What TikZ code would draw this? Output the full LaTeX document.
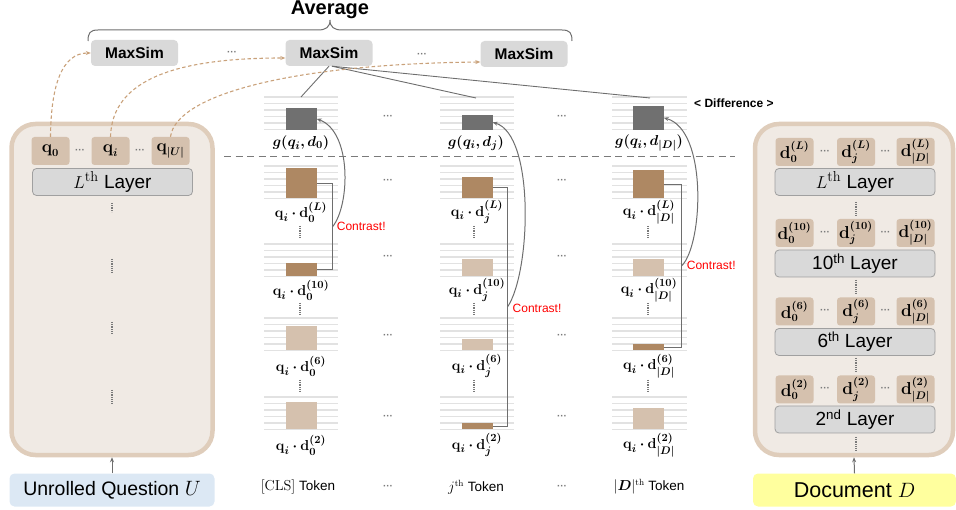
\documentclass[tikz,border=0pt]{standalone}
\usepackage{amsmath,bm}
\usepackage[no-math]{fontspec}
\setmainfont{Liberation Sans}
\usetikzlibrary{arrows.meta,calc}
\definecolor{panelfill}{HTML}{F0EAE4}
\definecolor{panelborder}{HTML}{DFCDBB}
\definecolor{tokfill}{HTML}{D5C1AE}
\definecolor{layerfill}{HTML}{D9D9D9}
\definecolor{layerborder}{HTML}{A0A0A0}
\definecolor{darkbar}{HTML}{AE8863}
\definecolor{lightbar}{HTML}{D5C1AE}
\definecolor{gbar}{HTML}{707070}
\definecolor{gridc}{HTML}{E2E2E2}
\definecolor{dashbrown}{HTML}{C9A17A}
\definecolor{qboxc}{HTML}{DCE8F4}
\definecolor{docboxc}{HTML}{FFFF9E}
\definecolor{dotgray}{HTML}{7A7A7A}
\definecolor{linegray}{HTML}{6E6E6E}
\newcommand{\qv}{\mathbf{q}}
\newcommand{\dv}{\mathbf{d}}
\newcommand{\hdd}{\textbf{···}}
\begin{document}
\begin{tikzpicture}[x=1pt,y=-1pt,
  panel/.style={draw=panelborder, line width=4.5pt, fill=panelfill, rounded corners=24pt, inner sep=0pt},
  tok/.style={fill=tokfill, rounded corners=3pt, minimum width=38pt, minimum height=28pt, inner sep=0pt, font=\fontsize{16}{18}\selectfont},
  layer/.style={draw=layerborder, line width=0.8pt, fill=layerfill, rounded corners=4pt, minimum width=160pt, minimum height=27pt, inner sep=0pt, font=\fontsize{19}{22}\selectfont},
  maxsim/.style={fill=layerfill, rounded corners=4pt, minimum width=87pt, minimum height=26pt, inner sep=0pt, font=\bfseries\fontsize{15.5}{18}\selectfont},
  inbox/.style={rounded corners=5pt, minimum width=205pt, minimum height=33pt, inner sep=0pt},
  bar/.style={anchor=south, minimum width=31pt, inner sep=0pt},
  lab/.style={font=\fontsize{15.5}{17}\selectfont, inner sep=0pt},
  hdots/.style={text=dotgray, font=\fontsize{10}{10}\selectfont, inner sep=0pt},
  vdot/.style={draw=dotgray, line width=1.3pt, dash pattern=on 1pt off 0.8pt},
  gridline/.style={draw=gridc, line width=1.2pt},
  qarrow/.style={draw=dashbrown, line width=1.1pt, dash pattern=on 3.5pt off 2.5pt, -{Stealth[length=5pt,width=4pt]}},
  bracketline/.style={draw=linegray, line width=1.1pt},
  contrast/.style={draw=linegray, line width=1pt, -{Stealth[length=5pt,width=4pt]}},
  redlab/.style={text=red, font=\fontsize{12}{14}\selectfont, inner sep=0pt, anchor=west},
  toklab/.style={font=\fontsize{13.5}{16}\selectfont, inner sep=0pt}
]
\useasboundingbox (0,0) rectangle (956,510);

% ---------- top: Average, brace, MaxSim ----------
\node[font=\bfseries\fontsize{20}{22}\selectfont, inner sep=0pt] (avg) at (330,10) {Average};
\draw[draw=linegray, line width=1pt] (88,41) .. controls (88,33) and (90,30) .. (98,30) -- (318,30)
   .. controls (326,30) and (330,27) .. (330,20) .. controls (330,27) and (334,30) .. (342,30)
   -- (562,30) .. controls (570,30) and (572,33) .. (572,41);
\node[maxsim] (m1) at (134.5,53) {MaxSim};
\node[maxsim] (m2) at (329,53) {MaxSim};
\node[maxsim] (m3) at (524,54) {MaxSim};
\node[hdots] (md1) at (232,53) {\hdd};
\node[hdots] (md2) at (422,55) {\hdd};

% ---------- left panel ----------
\node[panel, minimum width=201pt, minimum height=331pt] (lp) at (112,289.5) {};
\node[tok] (q0) at (50.5,151) {$\bm{\qv_0}$};
\node[tok] (qi) at (110.5,151) {$\bm{\qv_i}$};
\node[tok] (qU) at (170.5,151) {$\bm{\qv_{|U|}}$};
\node[hdots] (qd1) at (80,151) {\hdd};
\node[hdots] (qd2) at (140,151) {\hdd};
\node[layer] (lL) at (112.5,182) {$L^{\mathrm{th}}$ Layer};
\draw[vdot] (112,203) -- (112,212);
\draw[vdot] (112,259) -- (112,272);
\draw[vdot] (112,322) -- (112,334);
\draw[vdot] (112,390) -- (112,403);
\node[inbox, fill=qboxc, font=\fontsize{19.5}{22}\selectfont] (qbox) at (112,490) {Unrolled Question $U$};
\draw[draw=linegray, line width=1pt, -{Stealth[length=5pt,width=4pt]}] (qbox.north) -- (lp.south);

% ---------- right panel ----------
\node[panel, minimum width=198pt, minimum height=331pt] (rp) at (854,289.5) {};
\foreach \r/\y/\ly/\sup/\lname in {L/152/182/{L}/{$L^{\mathrm{th}}$ Layer},
                                   X/233/263.5/{10}/{10\textsuperscript{th} Layer},
                                   S/311.5/342/{6}/{6\textsuperscript{th} Layer},
                                   T/389.5/419.5/{2}/{2\textsuperscript{nd} Layer}}{
  \node[tok] (d0\r) at (794.5,\y) {$\bm{\dv_0^{(\sup)}}$};
  \node[tok] (dj\r) at (856,\y) {$\bm{\dv_j^{(\sup)}}$};
  \node[tok] (dD\r) at (915.5,\y) {$\bm{\dv_{|D|}^{(\sup)}}$};
  \node[hdots] at (825,\y) {\hdd};
  \node[hdots] at (885.5,\y) {\hdd};
  \node[layer] (ly\r) at (855,\ly) {\lname};
}
\draw[vdot] (856,202) -- (856,215);
\draw[vdot] (856,280) -- (856,293);
\draw[vdot] (856,358) -- (856,372);
\draw[vdot] (856,437) -- (856,450);
\node[inbox, fill=docboxc, minimum width=203pt, font=\fontsize{21.5}{24}\selectfont] (dbox) at (854.5,490) {Document $D$};
\draw[draw=linegray, line width=1pt, -{Stealth[length=5pt,width=4pt]}] (dbox.north) -- (rp.south);

% ---------- middle columns: grids ----------
\foreach \gx/\gw in {264/338,440/514,612/687}{
  \foreach \gt in {97,166,244,318,397}{
    \foreach \k in {0,...,5}{
      \draw[gridline] (\gx,{\gt+\k*6.5}) -- (\gw,{\gt+\k*6.5});
    }
  }
}
% bars column 1 (x=301)
\node[bar, fill=gbar, minimum height=22pt] (g1) at (301,130) {};
\node[bar, fill=darkbar, minimum height=30pt] (b1L) at (301,198.5) {};
\node[bar, fill=darkbar, minimum height=13pt] (b1X) at (301,276.5) {};
\node[bar, fill=lightbar, minimum height=24pt] (b1S) at (301,350.5) {};
\node[bar, fill=lightbar, minimum height=27pt] (b1T) at (301,429.5) {};
% bars column 2 (x=477)
\node[bar, fill=gbar, minimum height=15pt] (g2) at (477,130) {};
\node[bar, fill=darkbar, minimum height=21pt] (b2L) at (477,198.5) {};
\node[bar, fill=lightbar, minimum height=17pt] (b2X) at (477,276.5) {};
\node[bar, fill=lightbar, minimum height=11pt] (b2S) at (477,350.5) {};
\node[bar, fill=darkbar, minimum height=6pt] (b2T) at (477,429.5) {};
% bars column 3 (x=648)
\node[bar, fill=gbar, minimum height=24pt] (g3) at (648,130) {};
\node[bar, fill=darkbar, minimum height=28pt] (b3L) at (648,198.5) {};
\node[bar, fill=lightbar, minimum height=17pt] (b3X) at (648,276.5) {};
\node[bar, fill=darkbar, minimum height=6pt] (b3S) at (648,350.5) {};
\node[bar, fill=lightbar, minimum height=21pt] (b3T) at (648,429.5) {};

% labels
\node[lab] (lg1) at (301,143) {$\bm{g(q_i,d_0)}$};
\node[lab] (lg2) at (476,143) {$\bm{g(q_i,d_j)}$};
\node[lab] (lg3) at (649,143) {$\bm{g(q_i,d_{|D|})}$};
\foreach \cx/\sb/\cn in {301/0/1,477/j/2,649/{|D|}/3}{
  \node[lab] at (\cx,212) {$\bm{\qv_i\cdot\dv_{\sb}^{(L)}}$};
  \node[lab] at (\cx,290) {$\bm{\qv_i\cdot\dv_{\sb}^{(10)}}$};
  \node[lab] at (\cx,366) {$\bm{\qv_i\cdot\dv_{\sb}^{(6)}}$};
  \node[lab] at (\cx,445) {$\bm{\qv_i\cdot\dv_{\sb}^{(2)}}$};
}
\foreach \cx in {300,474,648}{
  \draw[vdot] (\cx,226) -- (\cx,238);
  \draw[vdot] (\cx,303) -- (\cx,315);
  \draw[vdot] (\cx,380) -- (\cx,392);
}
% horizontal dots between columns
\foreach \dy in {117,181,257,336,417,487}{
  \node[hdots] at (388,\dy) {\hdd};
  \node[hdots] at (562,\dy) {\hdd};
}
% bottom token labels
\node[toklab] (t1) at (298,487) {$[\mathrm{CLS}]$ Token};
\node[toklab] (t2) at (476,487) {$j^{\mathrm{th}}$ Token};
\node[toklab] (t3) at (649,487) {$|\bm{D}|^{\mathrm{th}}$ Token};

% difference line and label
\draw[draw=dotgray, line width=1pt, dash pattern=on 7pt off 4.5pt] (224,157) -- (735,157);
\node[font=\bfseries\fontsize{12}{14}\selectfont, inner sep=0pt, anchor=west] (diff) at (694,103) {< Difference >};

% MaxSim to columns
\coordinate (c1top) at (301,97);
\coordinate (c2top) at (476,98);
\coordinate (c3top) at (650,98);
\draw[draw=linegray, line width=0.9pt] ($(m2.south)+(0,0)$) -- (c1top);
\draw[draw=linegray, line width=0.9pt] ($(m2.south)+(3,0)$) -- (c2top);
\draw[draw=linegray, line width=0.9pt] ($(m2.south)+(3,0)$) -- (c3top);

% query tokens to MaxSim
\draw[qarrow] (q0.north) .. controls (51,85) and (62,53) .. (m1.west);
\draw[qarrow] (qi.north) .. controls (112,80) and (175,58) .. ($(m2.west)+(0,5)$);
\draw[qarrow] (qU.north) .. controls (176,95) and (290,64) .. ($(m3.west)+(0,8)$);

% brackets and contrast arrows
\draw[bracketline] (b1L.east) -| ($(b1X.east)+(16,0)$) -- (b1X.east);
\coordinate (k1) at ($(b1L.east)!0.5!(b1X.east)+(16,0)$);
\draw[contrast] (k1) .. controls (350,205) and (352,132) .. (g1.east);
\node[redlab] (r1) at ($(k1)+(4,0)$) {Contrast!};

\draw[bracketline] (b2L.east) -| ($(b2T.east)+(15,0)$) -- (b2T.east);
\coordinate (k2) at (507.5,307);
\draw[contrast] (k2) .. controls (531,272) and (535,135) .. (g2.east);
\node[redlab] (r2) at ($(k2)+(5,1)$) {Contrast!};

\draw[bracketline] (b3L.east) -| ($(b3S.east)+(18,0)$) -- (b3S.east);
\coordinate (k3) at ($(b3L.east)!0.5!(b3S.east)+(18,0)$);
\draw[contrast] (k3) .. controls (703,245) and (708,130) .. (g3.east);
\node[redlab] (r3) at ($(k3)+(5,0)$) {Contrast!};
\end{tikzpicture}
\end{document}
